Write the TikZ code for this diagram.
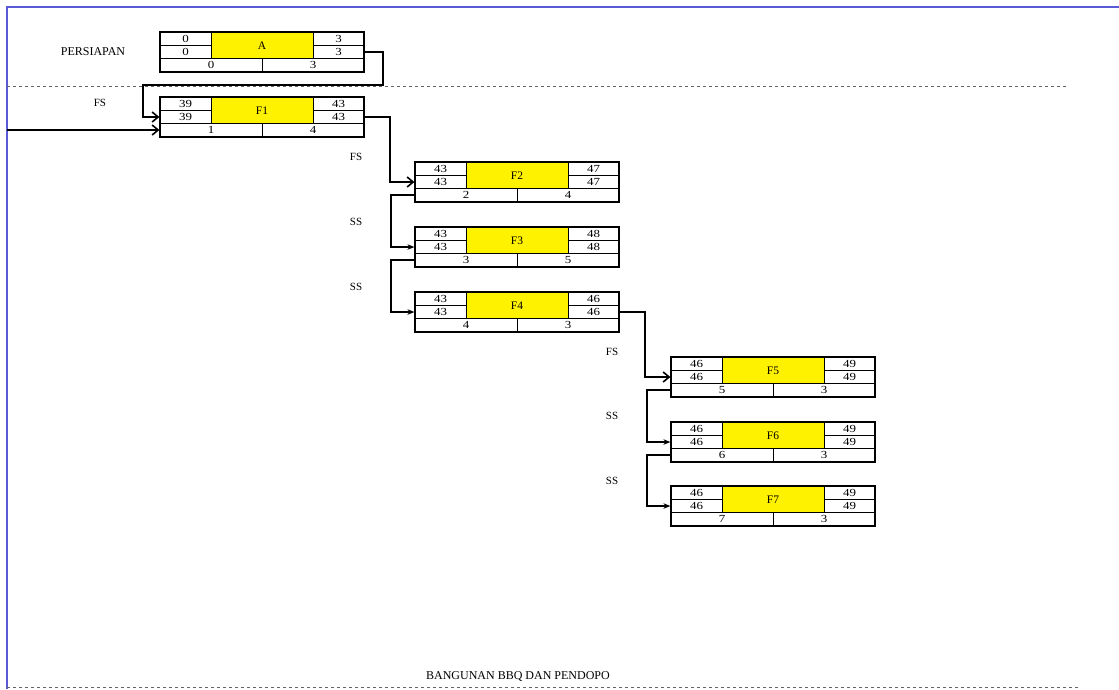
\documentclass[tikz,border=0pt]{standalone}
\usepackage{fontspec}
\setmainfont{Liberation Serif}
\newfontfamily\numfont[FakeStretch=1.2]{Liberation Serif}
\usetikzlibrary{arrows.meta}
\definecolor{framecol}{RGB}{90,90,215}
\definecolor{dashcol}{RGB}{100,100,100}
\tikzset{
  boxline/.style={line width=0.9pt},
  actframe/.style={draw, line width=1.2pt, rectangle, minimum width=204pt, minimum height=40pt, inner sep=0pt},
  num/.style={font=\numfont\fontsize{10.8}{12}\selectfont, inner sep=0pt},
  boxlbl/.style={font=\fontsize{11.5}{12}\selectfont, inner sep=0pt},
  lbl/.style={font=\fontsize{11}{12}\selectfont, inner sep=0pt},
  title/.style={font=\fontsize{12}{13}\selectfont, inner sep=0pt},
  link/.style={line width=1.9pt, -{Straight Barb[length=6pt,width=10pt,line width=1.6pt]}},
  sslink/.style={line width=1.4pt, -{Stealth[length=7pt,width=5.5pt]}},
}
% activity box: name, label, ES, EF, LS, LF, number, duration (drawn in a shifted scope)
\newcommand\actbox[8]{%
  \fill[yellow] (51,0) rectangle (153,26);
  \draw[boxline] (0,13) -- (51,13) (153,13) -- (204,13) (0,26) -- (204,26)
                 (51,0) -- (51,26) (153,0) -- (153,26) (102,26) -- (102,40);
  \node[actframe] (#1) at (102,20) {};
  \node[num] at (25.5,6.8) {#3};
  \node[num] at (25.5,19.8) {#5};
  \node[num] at (178.5,6.8) {#4};
  \node[num] at (178.5,19.8) {#6};
  \node[boxlbl] at (102,13.5) {#2};
  \node[num] at (51,33.3) {#7};
  \node[num] at (153,33.3) {#8};
}
\begin{document}
\begin{tikzpicture}[x=1pt,y=-1pt]
\useasboundingbox (0,0) rectangle (1119,689);
% page frame
\draw[framecol, line width=1.1pt] (7,689) -- (7,7) -- (1119,7);
% section separators
\draw[dashcol, dashed, line width=0.8pt] (7,86) -- (1068,86);
\draw[dashcol, dashed, line width=0.8pt] (7,687.5) -- (1078,687.5);

% activities
\begin{scope}[shift={(160,32)}]  \actbox{A}{A}{0}{3}{0}{3}{0}{3} \end{scope}
\begin{scope}[shift={(160,97)}]  \actbox{F1}{F1}{39}{43}{39}{43}{1}{4} \end{scope}
\begin{scope}[shift={(415,162)}] \actbox{F2}{F2}{43}{47}{43}{47}{2}{4} \end{scope}
\begin{scope}[shift={(415,227)}] \actbox{F3}{F3}{43}{48}{43}{48}{3}{5} \end{scope}
\begin{scope}[shift={(415,292)}] \actbox{F4}{F4}{43}{46}{43}{46}{4}{3} \end{scope}
\begin{scope}[shift={(671,357)}] \actbox{F5}{F5}{46}{49}{46}{49}{5}{3} \end{scope}
\begin{scope}[shift={(671,422)}] \actbox{F6}{F6}{46}{49}{46}{49}{6}{3} \end{scope}
\begin{scope}[shift={(671,486)}] \actbox{F7}{F7}{46}{49}{46}{49}{7}{3} \end{scope}

% relation labels
\node[title] at (93,52) {PERSIAPAN};
\node[lbl] at (100,103) {FS};
\node[lbl] at (356,157) {FS};
\node[lbl] at (356,222) {SS};
\node[lbl] at (356,287) {SS};
\node[lbl] at (612,352) {FS};
\node[lbl] at (612,416) {SS};
\node[lbl] at (612,481) {SS};
\node[title] at (518,676) {BANGUNAN BBQ DAN PENDOPO};

% incoming link
\coordinate (in) at (7,130);
\draw[link] (in) -- ([yshift=-13pt]F1.west);

% dependencies
\draw[link] (A.east) -| (383,85) -| (143,117) -- (F1.west);
\draw[link] (F1.east) -| (390,182) -- (F2.west);
\draw[sslink] ([yshift=-13pt]F2.west) -| (391,247) -- (F3.west);
\draw[sslink] ([yshift=-13pt]F3.west) -| (391,312) -- (F4.west);
\draw[link] (F4.east) -| (645,377) -- (F5.west);
\draw[sslink] ([yshift=-13pt]F5.west) -| (647,442) -- (F6.west);
\draw[sslink] ([yshift=-13pt]F6.west) -| (647,506) -- (F7.west);
\end{tikzpicture}
\end{document}
